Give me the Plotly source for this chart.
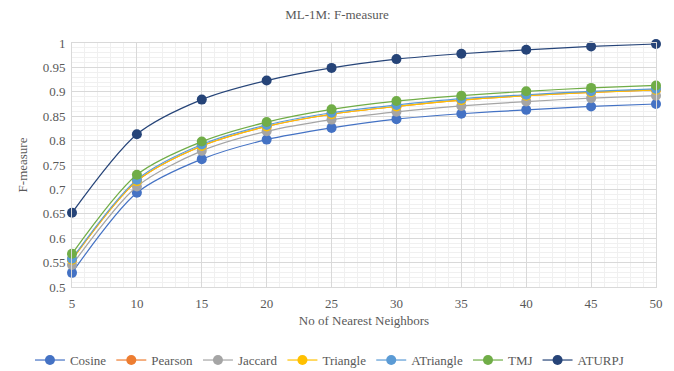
import plotly.graph_objects as go

neighbors = [5, 10, 15, 20, 25, 30, 35, 40, 45, 50]
cosine    = [0.529, 0.693, 0.762, 0.802, 0.826, 0.844, 0.855, 0.863, 0.870, 0.875]
pearson   = [0.556, 0.717, 0.789, 0.829, 0.854, 0.870, 0.883, 0.892, 0.899, 0.904]
jaccard   = [0.545, 0.706, 0.779, 0.819, 0.843, 0.859, 0.871, 0.880, 0.887, 0.892]
triangle  = [0.556, 0.717, 0.789, 0.829, 0.854, 0.870, 0.883, 0.892, 0.899, 0.904]
atriangle = [0.558, 0.720, 0.792, 0.832, 0.857, 0.873, 0.886, 0.894, 0.901, 0.906]
tmj       = [0.568, 0.730, 0.798, 0.838, 0.864, 0.881, 0.892, 0.901, 0.908, 0.913]
aturpj    = [0.652, 0.813, 0.884, 0.923, 0.949, 0.967, 0.978, 0.986, 0.993, 0.998]
y_ticks = [0.5, 0.55, 0.6, 0.65, 0.7, 0.75, 0.8, 0.85, 0.9, 0.95, 1.0]
y_labels = ["0.5", "0.55", "0.6", "0.65", "0.7", "0.75", "0.8", "0.85", "0.9", "0.95", "1"]

series = [
    ("Cosine", cosine, "#4472C4"),
    ("Pearson", pearson, "#ED7D31"),
    ("Jaccard", jaccard, "#A5A5A5"),
    ("Triangle", triangle, "#FFC000"),
    ("ATriangle", atriangle, "#5B9BD5"),
    ("TMJ", tmj, "#70AD47"),
    ("ATURPJ", aturpj, "#264478"),
]

font = "Liberation Serif"
fig = go.Figure()
for name, vals, color in series:
    fig.add_trace(go.Scatter(
        x=neighbors, y=vals, name=name, mode="lines+markers",
        line=dict(color=color, width=1.2, shape="spline", smoothing=0.8),
        marker=dict(color=color, size=10),
        cliponaxis=False,
    ))

fig.update_layout(
    width=674, height=371,
    margin=dict(l=72, r=18, t=43, b=84, autoexpand=False),
    paper_bgcolor="white", plot_bgcolor="white",
    font=dict(family=font, color="#595959", size=13),
    title=dict(text="ML-1M: F-measure", x=0.5, xanchor="center", y=0.962, yanchor="middle",
               font=dict(size=13, color="#595959", family=font)),
    showlegend=True,
    legend=dict(orientation="h", x=-0.072, xanchor="left", y=-0.238, yanchor="top",
                font=dict(size=13, color="#595959", family=font),
                itemwidth=30, tracegroupgap=0),
)
fig.update_xaxes(
    range=[5, 50], tickmode="array", tickvals=neighbors, ticks="",
    tickfont=dict(family=font, size=13, color="#595959"), ticklabelstandoff=4,
    showgrid=True, gridcolor="#D9D9D9", gridwidth=1,
    minor=dict(dtick=1, showgrid=True, gridcolor="#F0F0F0", gridwidth=1),
    showline=True, linecolor="#D9D9D9", linewidth=1, mirror=True,
    zeroline=False, automargin=False,
    title=dict(text="No of Nearest Neighbors", font=dict(family=font, size=13, color="#595959"), standoff=6),
)
fig.update_yaxes(
    range=[0.5, 1.0], tickmode="array", ticks="",
    tickvals=y_ticks, ticktext=y_labels,
    tickfont=dict(family=font, size=13, color="#595959"), ticklabelstandoff=3,
    showgrid=True, gridcolor="#D9D9D9", gridwidth=1,
    minor=dict(dtick=0.01, tick0=0.5, showgrid=True, gridcolor="#F0F0F0", gridwidth=1),
    showline=True, linecolor="#D9D9D9", linewidth=1, mirror=True,
    zeroline=False, automargin=False,
    title=dict(text="F-measure", font=dict(family=font, size=13, color="#595959"), standoff=12),
)
fig.write_html("out.html")
